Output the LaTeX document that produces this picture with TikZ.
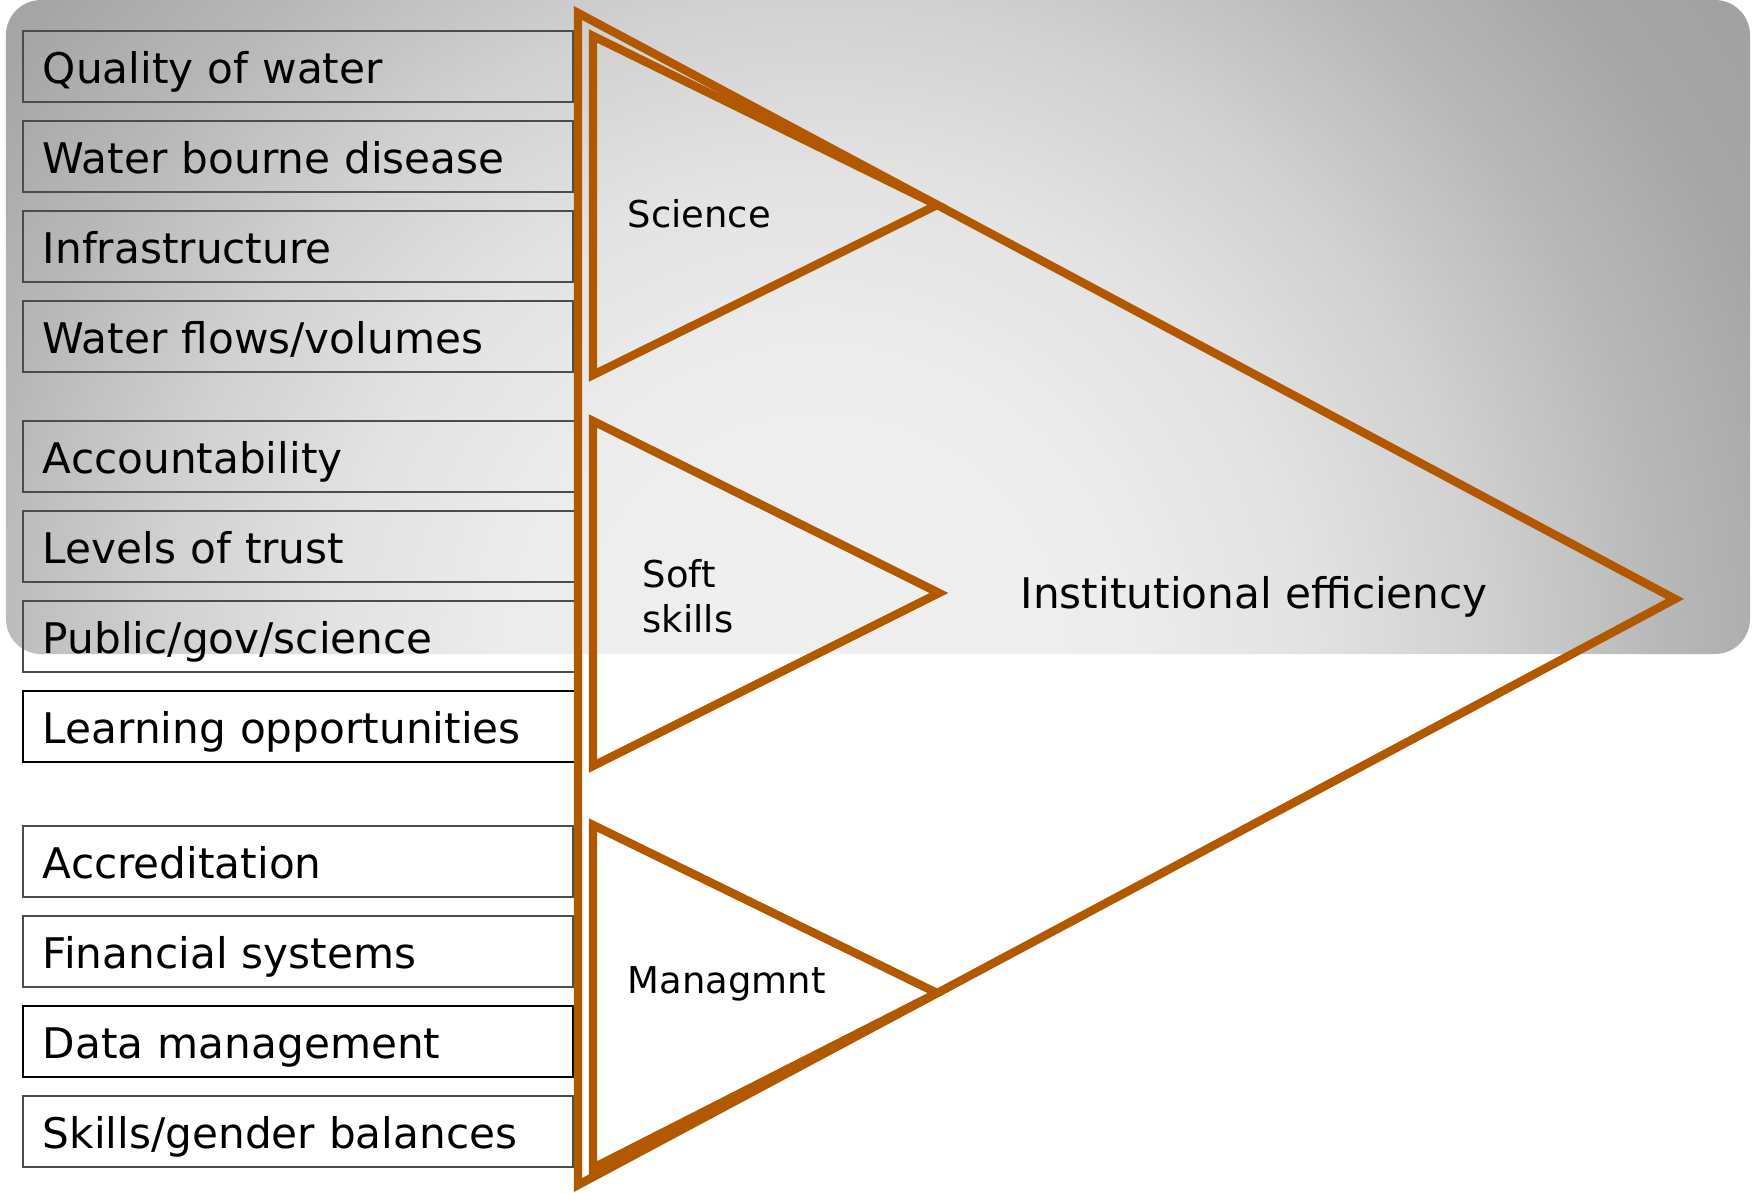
\documentclass[tikz,border=0pt]{standalone}
\usepackage{fontspec}
\setmainfont{DejaVu Sans}
\definecolor{rust}{RGB}{178,89,0}
\definecolor{pan0}{gray}{0.94}
\definecolor{pan1}{gray}{0.93}
\definecolor{pan2}{gray}{0.89}
\definecolor{pan3}{gray}{0.82}
\definecolor{pan4}{gray}{0.72}
\definecolor{pan5}{gray}{0.65}
\definecolor{pan6}{gray}{0.62}
\pgfdeclareradialshading{panel}{\pgfpoint{0bp}{0bp}}{color(0bp)=(pan0); color(6bp)=(pan1); color(10bp)=(pan2);
    color(13.75bp)=(pan3); color(17.6bp)=(pan4); color(21bp)=(pan5); color(25bp)=(pan6); color(50bp)=(pan6)}
\tikzset{
    item/.style  = {draw = black!70, line width = 0.5pt, anchor = north west,
                    inner xsep = 0.2cm, inner ysep = 0pt, minimum height = 0.71cm,
                    text width = 5.1cm, align = left, text height = 12pt, text depth = 2.3pt,
                    font = \fontsize{12}{14}\selectfont},
    wedge/.style = {draw = rust, line width = 2.4pt, line join = miter},
    tag/.style   = {anchor = base west, inner sep = 0pt, font = \fontsize{10.5}{12.7}\selectfont}
}
\begin{document}
\begin{tikzpicture}[x = 0.01cm, y = -0.01cm]
            \useasboundingbox (0, 0) rectangle (1753, 1193);

            % shaded panel behind the upper part
            \begin{scope}
                \clip[rounded corners = 0.35cm] (6, 0) rectangle (1750, 654);
                \shade[overlay, shading = panel] (-380, -540) rectangle (2020, 1860);
            \end{scope}

            \draw
                (22,   30) node (b1)  [item] {Quality of water}
                (22,  120) node (b2)  [item] {Water bourne disease}
                (22,  210) node (b3)  [item] {Infrastructure}
                (22,  300) node (b4)  [item] {Water flows/volumes}

                (22,  420) node (b5)  [item, text width = 5.15cm] {Accountability}
                (22,  510) node (b6)  [item, text width = 5.15cm] {Levels of trust}
                (22,  600) node (b7)  [item, text width = 5.15cm] {Public/gov/science}
                (22,  690) node (b8)  [item, text width = 5.15cm, draw = black] {Learning opportunities}

                (22,  825) node (b9)  [item] {Accreditation}
                (22,  915) node (b10) [item] {Financial systems}
                (22, 1005) node (b11) [item, draw = black] {Data management}
                (22, 1095) node (b12) [item] {Skills/gender balances}
            ;

            \path
                (578,   13) coordinate (bt)
                (578, 1185) coordinate (bb)
                (1675, 599) coordinate (ba)

                (593,   36) coordinate (st)
                (593,  375) coordinate (sb)
                (937,  205) coordinate (sa)

                (593,  421) coordinate (kt)
                (593,  766) coordinate (kb)
                (939,  593) coordinate (ka)

                (593,  825) coordinate (mt)
                (593, 1168) coordinate (mb)
                (937,  993) coordinate (ma)
            ;

            \draw[wedge] (bt) -- (ba) -- (bb) -- cycle;
            \draw[wedge] (st) -- (sa) -- (sb) -- cycle;
            \draw[wedge] (kt) -- (ka) -- (kb) -- cycle;
            \draw[wedge] (mt) -- (ma) -- (mb) -- cycle;

            \draw
                (627,  227) node (sci)  [tag] {Science}
                (642,  596) node (soft) [tag, anchor = west, align = left] {Soft\\skills}
                (627,  993) node (mgt)  [tag] {Managmnt}
                (1020, 608) node (eff)  [tag, font = \fontsize{12}{14}\selectfont] {Institutional efficiency}
            ;

        \end{tikzpicture}
\end{document}
